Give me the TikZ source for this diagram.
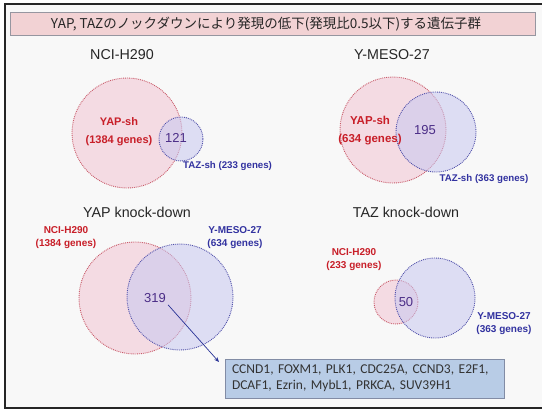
\documentclass[tikz,border=0pt]{standalone}
\usepackage{fontspec}
\setmainfont{Liberation Sans}
\newfontfamily\jpfont{Noto Sans CJK JP}
\newfontfamily\calfont{Carlito}
\usetikzlibrary{arrows.meta}
\definecolor{bg}{RGB}{248,248,248}
\definecolor{titlefill}{RGB}{242,210,212}
\definecolor{titleline}{RGB}{150,150,160}
\definecolor{redtxt}{RGB}{200,30,40}
\definecolor{bluetxt}{RGB}{50,50,160}
\definecolor{numtxt}{RGB}{75,45,135}
\definecolor{redfill}{RGB}{242,192,208}
\definecolor{bluefill}{RGB}{200,200,240}
\definecolor{redline}{RGB}{200,90,105}
\definecolor{blueline}{RGB}{80,80,170}
\definecolor{boxfill}{RGB}{184,204,230}
\definecolor{boxline}{RGB}{130,140,165}
\definecolor{arrowcol}{RGB}{40,50,150}
\begin{document}
\begin{tikzpicture}[x=1pt,y=-1pt,
  redset/.style={circle, inner sep=0pt, fill=redfill, fill opacity=0.5, draw=redline, densely dotted, line width=0.9pt},
  blueset/.style={circle, inner sep=0pt, fill=bluefill, fill opacity=0.55, draw=blueline, densely dotted, line width=0.9pt},
  heading/.style={font=\fontsize{14.3}{17}\selectfont, text=black!85},
  redlab/.style 2 args={text=redtxt, font=\bfseries\fontsize{#1}{#2}\selectfont, align=center, inner sep=1pt},
  bluelab/.style 2 args={text=bluetxt, font=\bfseries\fontsize{#1}{#2}\selectfont, align=center, inner sep=1pt},
  num/.style={text=numtxt, font=\fontsize{13}{15}\selectfont, inner sep=2pt},
  genebox/.style={draw=boxline, fill=boxfill, line width=0.9pt, inner xsep=7pt, inner ysep=0pt,
    text width=265pt, minimum height=39pt, align=left, text=black!80,
    font=\calfont\fontsize{13.5}{16}\selectfont},
  arrowsty/.style={draw=arrowcol, line width=0.7pt, -{Stealth[length=5pt,width=4pt]}}
]
\useasboundingbox (0,0) rectangle (542,410);
\fill[white] (0,0) rectangle (542,410);
\fill[bg] (5,4) rectangle (542,408);
\draw[line width=2pt, black!85] (542,4) -- (5,4) -- (5,408) -- (542,408);

% title
\node[draw=titleline, fill=titlefill, minimum width=525pt, minimum height=23pt, inner sep=0pt, line width=0.8pt] (title) at (272.5,23.5) {};
\node[font=\jpfont\fontsize{13.5}{16}\selectfont, text=black!85, inner sep=0pt] (titletext) at (266,24)
  {YAP, TAZのノックダウンにより発現の低下(発現比0.5以下)する遺伝子群};

% headings
\node[heading] (h1) at (122,55) {NCI-H290};
\node[heading] (h2) at (392,55) {Y-MESO-27};
\node[heading] (h3) at (137,212) {YAP knock-down};
\node[heading] (h4) at (406,212) {TAZ knock-down};

% Venn 1: NCI-H290
\node[redset, minimum size=110pt] (v1yap) at (127,133) {};
\node[blueset, minimum size=44pt] (v1taz) at (181,139) {};
\node[redlab={11}{18}] (v1yaplab) at (119,132) {YAP-sh\\(1384 genes)};
\node[num] (v1num) at (176,138) {121};
\node[bluelab={9.7}{12}, anchor=west] (v1tazlab) at (182,166) {TAZ-sh (233 genes)};

% Venn 2: Y-MESO-27
\node[redset, minimum size=106pt] (v2yap) at (393,130) {};
\node[blueset, minimum size=80pt] (v2taz) at (436,132) {};
\node[redlab={11.5}{18}] (v2yaplab) at (370,131) {YAP-sh\\(634 genes)};
\node[num] (v2num) at (425,130) {195};
\node[bluelab={9.7}{12}] (v2tazlab) at (484,179) {TAZ-sh (363 genes)};

% Venn 3: YAP knock-down
\node[redset, minimum size=112pt] (v3h) at (135,298) {};
\node[blueset, minimum size=106pt] (v3y) at (180,297) {};
\node[redlab={10}{13}] (v3hlab) at (66,238) {NCI-H290\\(1384 genes)};
\node[bluelab={10}{13}] (v3ylab) at (235,238) {Y-MESO-27\\(634 genes)};
\node[num] (v3num) at (155,298) {319};

% Venn 4: TAZ knock-down
\node[redset, minimum size=44pt] (v4h) at (396,302) {};
\node[blueset, minimum size=80pt] (v4y) at (435,298) {};
\node[redlab={10}{13}] (v4hlab) at (354,260) {NCI-H290\\(233 genes)};
\node[num] (v4num) at (406,302) {50};
\node[bluelab={10}{13}] (v4ylab) at (504,324) {Y-MESO-27\\(363 genes)};

% gene box and arrow
\node[genebox] (genes) at (364.5,378.5) {CCND1, FOXM1, PLK1, CDC25A, CCND3, E2F1,\\DCAF1, Ezrin, MybL1, PRKCA, SUV39H1};
\coordinate (arrowend) at (219,362);
\draw[arrowsty] (v3num.south east) -- (arrowend);
\end{tikzpicture}
\end{document}
